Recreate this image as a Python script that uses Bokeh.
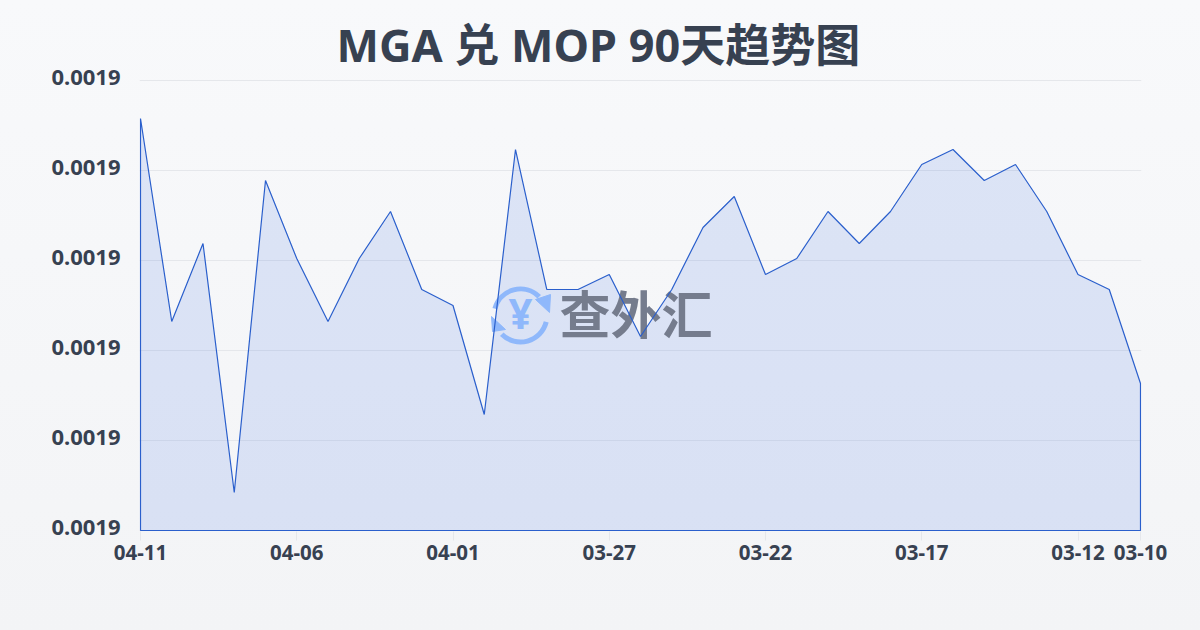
from bokeh.plotting import figure
from bokeh.embed import file_html
from bokeh.resources import INLINE
from bokeh.models import Range1d, FixedTicker, NumeralTickFormatter
from bokeh.core.properties import value

TITLE = "MGA 兑 MOP 90天趋势图"
rates = [0.00192578, 0.00190322, 0.00191189, 0.00188422, 0.00191889, 0.00191022, 0.00190322,
         0.00191022, 0.00191544, 0.00190678, 0.00190500, 0.00189289, 0.00192233, 0.00190678,
         0.00190678, 0.00190844, 0.00190156, 0.00190678, 0.00191367, 0.00191711, 0.00190844,
         0.00191022, 0.00191544, 0.00191189, 0.00191544, 0.00192067, 0.00192233, 0.00191889,
         0.00192067, 0.00191544, 0.00190844, 0.00190678, 0.00189633]
date_ticks = [0, 5, 10, 15, 20, 25, 30, 32]
date_labels = ["04-11", "04-06", "04-01", "03-27", "03-22", "03-17", "03-12", "03-10"]
y_ticks = [0.00188, 0.00189, 0.00190, 0.00191, 0.00192, 0.00193]

X0, X1, Y0, Y1 = 140, 1140, 530, 80          # data extent in page pixels
FL, FR, FB, FT = 139, 1141, 531, 75          # frame, a little larger so strokes are not clipped
N = len(rates) - 1
YMIN, YMAX = y_ticks[0], y_ticks[-1]
FONT = "Noto Sans, Noto Sans CJK SC, sans-serif"
INK = "#374151"
LINE = "#2a5fcc"
LABEL_LIFT = 3                               # y tick labels sit slightly above their gridlines


def dx(px):
    return (px - X0) / (X1 - X0) * N


def dy(py):
    return YMIN + (Y0 - py) / (Y0 - Y1) * (YMAX - YMIN)


p = figure(width=1200, height=630, output_backend="svg", toolbar_location=None,
           frame_width=FR - FL, frame_height=FB - FT,
           min_border_left=FL, min_border_right=1200 - FR,
           min_border_top=FT, min_border_bottom=630 - FB,
           x_range=Range1d(dx(FL), dx(FR)), y_range=Range1d(dy(FB), dy(FT)),
           border_fill_color=None, background_fill_color=None, outline_line_color=None)
p.extra_y_ranges = {"labels": Range1d(dy(FB + LABEL_LIFT), dy(FT + LABEL_LIFT))}

# title
p.title.text = TITLE
p.title.align = "left"
p.title.offset = 197
p.title.text_font = FONT
p.title.text_font_size = "45px"
p.title.text_font_style = "bold"
p.title.text_color = INK
p.title.standoff = 2

# axes
p.xaxis.ticker = FixedTicker(ticks=date_ticks)
p.xaxis.major_label_overrides = dict(zip(date_ticks, date_labels))
p.yaxis.y_range_name = "labels"
p.yaxis.ticker = FixedTicker(ticks=y_ticks)
p.yaxis.formatter = NumeralTickFormatter(format="0.0000")
for ax in (p.xaxis[0], p.yaxis[0]):
    ax.axis_line_color = None
    ax.minor_tick_line_color = None
    ax.major_label_text_font = FONT
    ax.major_label_text_font_style = "bold"
    ax.major_label_text_color = INK
p.xaxis.major_tick_line_color = "#e5e7eb"
p.xaxis.major_tick_in = 0
p.xaxis.major_tick_out = 9
p.xaxis.major_label_text_font_size = "20.5px"
p.xaxis.major_label_standoff = 4
p.yaxis.major_tick_line_color = None
p.yaxis.major_label_text_font_size = "22px"
p.yaxis.major_label_standoff = 13
p.xgrid.grid_line_color = None
p.ygrid.grid_line_color = "#e5e7eb"
p.ygrid.ticker = FixedTicker(ticks=y_ticks)

# filled area, drawn under the watermark
xs = list(range(len(rates)))
ring_x = [0] + xs + [N]
ring_y = [YMIN] + rates + [YMIN]
p.patch(ring_x, ring_y, fill_color="#2360e0", fill_alpha=0.13, line_color=None)

# watermark: coin with circular arrows, then the brand text
LOGO = "#8fb8fb"
p.arc(x=[dx(520), dx(520)], y=[dy(315), dy(315)], radius=26.5, radius_units="screen",
      start_angle=[45, 225 - 360], end_angle=[165, -14], start_angle_units="deg",
      end_angle_units="deg", line_color=LOGO, line_width=5)
p.patches([[dx(535), dx(550), dx(549)], [dx(491), dx(505), dx(492)]],
          [[dy(299), dy(294), dy(312)], [dy(316), dy(329), dy(331)]],
          fill_color=LOGO, line_color=LOGO)
p.text(x=[dx(520)], y=[dy(312)], text=["¥"], text_font=value("Noto Sans"),
       text_font_size="42px", text_font_style="bold", text_color=LOGO,
       text_align="center", text_baseline="middle")
p.text(x=[dx(635.5)], y=[dy(311)], text=["查外汇"], text_font=value("Noto Sans CJK SC"),
       text_font_size="51px", text_font_style="bold", text_color="#757c8d",
       text_align="center", text_baseline="middle")

# outline of the area on top of the watermark
p.patch(ring_x, ring_y, fill_color=None, line_color=LINE, line_width=1.2)

html = file_html(p, INLINE)
html = html.replace("<head>", "<head><style>html{height:100%;background:linear-gradient(180deg,#f8f9fb,#f3f4f6)}"
                    "body{background:transparent}</style>", 1)
open("out.html", "w").write(html)
